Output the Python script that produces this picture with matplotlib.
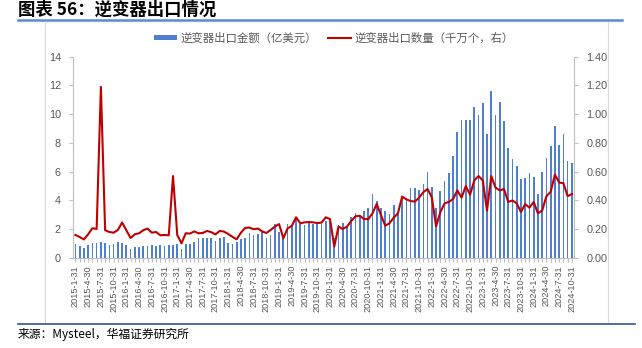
import matplotlib
matplotlib.use("Agg")
import matplotlib.pyplot as plt
from matplotlib.lines import Line2D
from matplotlib.patches import Patch
import numpy as np
import pandas as pd

plt.rcParams['font.family'] = ['Liberation Sans', 'Noto Sans CJK SC', 'DejaVu Sans']

# monthly series, 2015-01 .. 2024-10
months = pd.date_range("2015-01-31", periods=118, freq="ME")
month_labels = [f"{d.year}-{d.month}-{d.day}" for d in months]

# export value, 100 million USD (left axis)
export_value = [
    0.97, 0.80, 0.70, 0.87, 1.02, 1.02, 1.10, 1.05, 0.90, 1.00, 1.13, 1.06,
    0.90, 0.66, 0.78, 0.78, 0.82, 0.83, 0.88, 0.80, 0.88, 0.84, 0.90, 0.90,
    0.95, 0.63, 0.97, 0.97, 1.14, 1.37, 1.41, 1.37, 1.37, 1.16, 1.41, 1.48,
    1.07, 0.97, 1.14, 1.32, 1.41, 1.72, 1.60, 1.65, 1.78, 1.41, 1.62, 2.36,
    1.78, 1.37, 2.36, 2.25, 2.69, 2.34, 2.27, 2.48, 2.39, 2.36, 2.39, 2.60,
    2.71, 1.40, 2.29, 2.46, 2.20, 2.83, 3.13, 2.99, 3.29, 3.45, 4.43, 3.94,
    3.50, 3.29, 3.04, 3.66, 3.22, 4.27, 4.03, 4.89, 4.89, 4.75, 5.15, 5.96,
    4.92, 3.46, 4.67, 5.37, 5.90, 7.10, 8.75, 9.60, 9.60, 9.60, 10.49, 9.93,
    10.76, 8.63, 11.62, 9.95, 10.86, 9.54, 7.62, 6.90, 6.42, 5.47, 5.54, 5.93,
    5.66, 4.45, 6.00, 6.93, 7.79, 9.18, 7.86, 8.60, 6.77, 6.58,
]

# export quantity, 10 million units (right axis)
export_qty = [
    0.160, 0.146, 0.129, 0.165, 0.207, 0.202, 1.190, 0.193, 0.181, 0.176, 0.195, 0.247,
    0.193, 0.139, 0.165, 0.172, 0.193, 0.205, 0.176, 0.181, 0.158, 0.160, 0.158, 0.570,
    0.160, 0.102, 0.172, 0.170, 0.185, 0.172, 0.174, 0.188, 0.180, 0.164, 0.188, 0.184,
    0.167, 0.147, 0.130, 0.176, 0.209, 0.212, 0.200, 0.205, 0.185, 0.174, 0.195, 0.218,
    0.236, 0.137, 0.206, 0.223, 0.283, 0.241, 0.248, 0.250, 0.248, 0.243, 0.246, 0.283,
    0.271, 0.079, 0.218, 0.202, 0.218, 0.257, 0.290, 0.294, 0.271, 0.270, 0.310, 0.376,
    0.299, 0.225, 0.241, 0.280, 0.310, 0.427, 0.408, 0.396, 0.392, 0.420, 0.458, 0.480,
    0.420, 0.220, 0.320, 0.380, 0.390, 0.410, 0.470, 0.420, 0.500, 0.440, 0.540, 0.570,
    0.540, 0.330, 0.570, 0.490, 0.470, 0.480, 0.390, 0.400, 0.380, 0.320, 0.375, 0.350,
    0.390, 0.310, 0.330, 0.430, 0.460, 0.580, 0.525, 0.520, 0.430, 0.445,
]

left_ticks = [0, 2, 4, 6, 8, 10, 12, 14]
right_ticks = [0.0, 0.2, 0.4, 0.6, 0.8, 1.0, 1.2, 1.4]

bar_color = "#4F7FD0"
line_color = "#C00000"
text_color = "#595959"
axis_color = "#BFBFBF"

W, H = 642, 348
fig = plt.figure(figsize=(W / 100, H / 100), dpi=100)

ax = fig.add_axes([73.3 / W, 1 - 258 / H, (574 - 73.3) / W, (258 - 56.7) / H])
x = np.arange(len(export_value))
ax.bar(x, export_value, width=0.4, color=bar_color, zorder=2)
ax.set_xlim(-0.5, len(x) - 0.5)
ax.set_ylim(0, 14)
ax.set_yticks(left_ticks)
ax.set_yticklabels([str(t) for t in left_ticks])

ax.set_xticks(x[::3])
ax.set_xticklabels(month_labels[::3], rotation=90)
ax.set_xticks(x, minor=True)

ax2 = ax.twinx()
ax2.plot(x, export_qty, color=line_color, linewidth=1.5, zorder=3)
ax2.set_ylim(0, 1.4)
ax2.set_yticks(right_ticks)
ax2.set_yticklabels([f"{t:.2f}" for t in right_ticks])

for a in (ax, ax2):
    a.spines["top"].set_visible(False)
    for side in ("left", "right", "bottom"):
        a.spines[side].set_color(axis_color)
        a.spines[side].set_linewidth(0.8)
    a.tick_params(axis="both", which="both", colors=axis_color, labelcolor=text_color,
                  length=3, width=0.8, direction="out")
ax.tick_params(axis="y", labelsize=7.8, pad=6)
ax.tick_params(axis="x", which="both", labelsize=6.6, pad=2)
ax2.tick_params(axis="y", labelsize=7.8, pad=6)
ax.spines["right"].set_visible(False)
ax2.spines["left"].set_visible(False)
ax2.spines["bottom"].set_visible(False)

# legend above the plot area
handles = [
    Patch(facecolor=bar_color, edgecolor="none", label="逆变器出口金额（亿美元）"),
    Line2D([0], [0], color=line_color, linewidth=1.5, label="逆变器出口数量（千万个，右）"),
]
leg = fig.legend(handles=handles, loc="center", bbox_to_anchor=(334 / W, 1 - 38 / H),
                 ncol=2, frameon=False, fontsize=8.2, handlelength=2.0, handleheight=0.4,
                 columnspacing=1.0, handletextpad=0.3)
for t in leg.get_texts():
    t.set_color(text_color)

# title, rules and source note
fig.text(18 / W, 1 - 10 / H, "图表 56：逆变器出口情况", fontsize=12.5, fontweight="bold",
         va="center", ha="left", family=["Noto Sans CJK SC", "DejaVu Sans"], color="#000000")
fig.add_artist(Line2D([18 / W, 622 / W], [1 - 20 / H, 1 - 20 / H], color="#5B8BD0", linewidth=1.8))
fig.add_artist(Line2D([18 / W, 635 / W], [1 - 324 / H, 1 - 324 / H], color="#2F5597", linewidth=1.2))
fig.add_artist(Line2D([45 / W, 45 / W], [1 - 22 / H, 1 - 322 / H], color="#D9D9D9", linewidth=0.8))
fig.add_artist(Line2D([608 / W, 608 / W], [1 - 22 / H, 1 - 322 / H], color="#D9D9D9", linewidth=0.8))
fig.text(18 / W, 1 - 334 / H, "来源：Mysteel，华福证券研究所", fontsize=8.5, va="center", ha="left",
         family=["Noto Sans CJK SC", "DejaVu Sans"], color="#000000")

fig.savefig("out.png", dpi=100)
